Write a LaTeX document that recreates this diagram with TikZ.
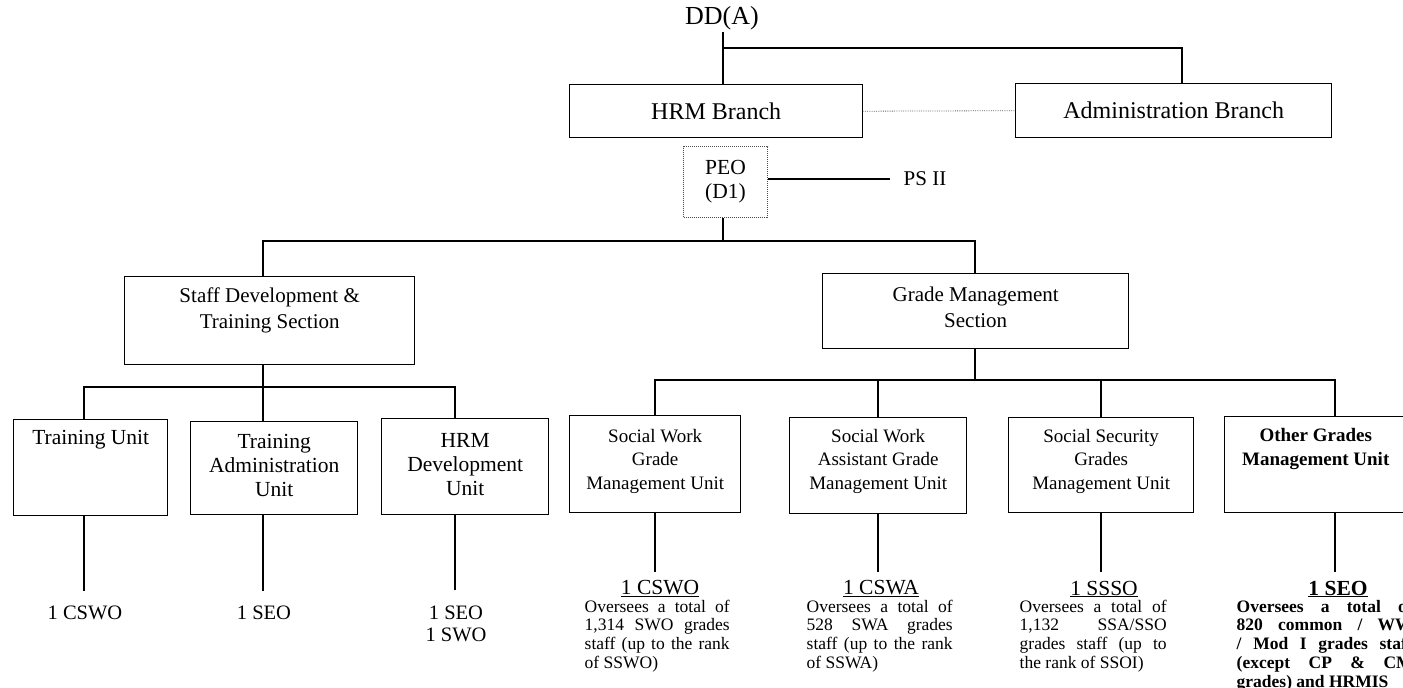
\documentclass[tikz,border=0pt]{standalone}
\usepackage{fontspec}
\setmainfont{Liberation Serif}
\newcommand{\fs}[2]{\fontsize{#1}{#2}\selectfont}
\begin{document}
\begin{tikzpicture}[x=1pt,y=-1pt,line width=1.4pt,
  box/.style={draw,line width=1.4pt,inner sep=0pt,anchor=north west},
  dotbox/.style={draw=black!70,densely dotted,line width=1pt,inner sep=0pt,anchor=north west},
  linkdot/.style={draw=black!60,densely dotted,line width=0.8pt},
  branchtext/.style={font=\fs{24}{27},align=center,inner sep=0pt},
  toptext/.style={font=\fs{21}{26},align=center,inner sep=0pt},
  trtext/.style={font=\fs{21.5}{24},align=center,inner sep=0pt},
  unittext/.style={font=\fs{19}{23.5},align=center,inner sep=0pt},
  headcount/.style={font=\fs{20.5}{22},align=center,inner sep=0pt},
  note/.style={font=\fs{17.5}{18.8},align=justify,inner sep=0pt,anchor=north west,text width=#1},
]
\useasboundingbox (0,0) rectangle (1403,688);
\clip (0,0) rectangle (1403,688);

% ---------- top level ----------
\node[font=\fs{26}{28},inner sep=0pt] (dd) at (722,18) {DD(A)};
\node[box,minimum width=293,minimum height=53] (hrm) at (569,84) {};
\node[branchtext] (hrmt) at (hrm.center) {HRM Branch};
\node[box,minimum width=316,minimum height=54] (adm) at (1015,83) {};
\node[branchtext] (admt) at (adm.center) {Administration Branch};

\coordinate (ddj) at (723,48);
\coordinate (admj) at (1182,48);
\draw ([yshift=-2]dd.south -| ddj) -- (ddj |- hrm.north);
\draw (ddj) -- (admj) -- (admj |- adm.north);
\draw[linkdot] (hrm.east) -- (adm.west);

% ---------- PEO ----------
\node[dotbox,minimum width=84,minimum height=71] (peo) at (683,146) {};
\node[font=\fs{21.5}{24},align=center,inner sep=0pt] (peot) at (peo.center) {PEO\\(D1)};
\node[font=\fs{21}{22},anchor=west,inner sep=0pt] (ps) at (903,179) {PS II};
\draw (ps.west -| peo.east) -- ([xshift=-13]ps.west);

% ---------- sections ----------
\node[box,minimum width=290,minimum height=88] (sdt) at (124,276) {};
\node[toptext] (sdtt) at ([yshift=-34]sdt.north) {Staff Development \&\\Training Section};
\node[box,minimum width=306,minimum height=75] (gms) at (822,273) {};
\node[toptext] (gmst) at ([yshift=-34]gms.north) {Grade Management\\Section};

\coordinate (b2) at (723,241);
\coordinate (b2l) at (263,241);
\coordinate (b2r) at (975,241);
\draw (peo.south -| b2) -- (b2);
\draw (b2l |- sdt.north) -- (b2l) -- (b2r) -- (b2r |- gms.north);

% ---------- training units ----------
\node[box,minimum width=154,minimum height=96] (tu) at (13,419) {};
\node[box,minimum width=167,minimum height=93] (ta) at (190,421) {};
\node[box,minimum width=167,minimum height=96] (hd) at (381,418) {};
\node[trtext] (tut) at ([yshift=-21]tu.north) {Training Unit};
\node[trtext] (tat) at ([yshift=-44]ta.north) {Training\\Administration\\Unit};
\node[trtext] (hdt) at ([yshift=-47]hd.north) {HRM\\Development\\Unit};

\coordinate (b3) at (263,387);
\coordinate (b3a) at (84,387);
\coordinate (b3b) at (455,387);
\draw (b3 |- sdt.south) -- (b3);
\draw (b3a |- tu.north) -- (b3a) -- (b3b) -- (b3b |- hd.north);
\draw (b3) -- (b3 |- ta.north);

\node[headcount] (tuh) at (85,613) {1 CSWO};
\node[headcount] (tah) at (264,613) {1 SEO};
\node[headcount] (hdh) at (456,624) {1 SEO\\1 SWO};
\coordinate (tuj) at (84,591);
\coordinate (taj) at (263,591);
\coordinate (hdj) at (455,590);
\draw (tuj |- tu.south) -- (tuj);
\draw (taj |- ta.south) -- (taj);
\draw (hdj |- hd.south) -- (hdj);

% ---------- grade management units ----------
\node[box,minimum width=171,minimum height=97] (swg) at (569,415) {};
\node[box,minimum width=177,minimum height=96] (swa) at (789,417) {};
\node[box,minimum width=185,minimum height=95] (ssg) at (1008,417) {};
\node[box,minimum width=182,minimum height=96] (ogm) at (1224,416) {};
\node[unittext] (swgt) at ([yshift=-46]swg.north) {Social Work\\Grade\\Management Unit};
\node[unittext] (swat) at ([yshift=-44]swa.north) {Social Work\\Assistant Grade\\Management Unit};
\node[unittext] (ssgt) at ([yshift=-44]ssg.north) {Social Security\\Grades\\Management Unit};
\node[unittext,font=\bfseries\fs{19}{23.5}] (ogmt) at ([yshift=-33]ogm.north) {Other Grades\\Management Unit};

\coordinate (b4) at (975,380);
\coordinate (b4a) at (655,380);
\coordinate (b4b) at (878,380);
\coordinate (b4c) at (1101,380);
\coordinate (b4d) at (1335,380);
\draw (b4 |- gms.south) -- (b4);
\draw (b4a |- swg.north) -- (b4a) -- (b4d) -- (b4d |- ogm.north);
\draw (b4b) -- (b4b |- swa.north);
\draw (b4c) -- (b4c |- ssg.north);

\coordinate (swj) at (655,572);
\coordinate (saj) at (878,572);
\coordinate (ssj) at (1101,572);
\coordinate (ogj) at (1335,572);
\draw (swj |- swg.south) -- (swj);
\draw (saj |- swa.south) -- (saj);
\draw (ssj |- ssg.south) -- (ssj);
\draw (ogj |- ogm.south) -- (ogj);

\node[headcount,font=\fs{21.5}{22}] (swh) at (660,589) {\underline{1 CSWO}};
\node[headcount,font=\fs{21.5}{22}] (sah) at (881,589) {\underline{1 CSWA}};
\node[headcount,font=\fs{21.5}{22}] (ssh) at (1104,589) {\underline{1 SSSO}};
\node[headcount,font=\bfseries\fs{21.5}{22}] (ogh) at (1338,589) {\underline{1 SEO}};

\node[note=145pt] (swn) at (584,599) {Oversees a total of\linebreak
  1,314 SWO grades\linebreak staff (up to the rank\linebreak of SSWO)};
\node[note=146pt] (san) at (806,599) {Oversees a total of\linebreak
  528 SWA grades\linebreak staff (up to the rank\linebreak of SSWA)};
\node[note=147pt] (ssn) at (1019,599) {Oversees a total of\linebreak
  1,132 SSA/SSO\linebreak grades staff (up to\linebreak the rank of SSOI)};
\node[note=176pt,font=\bfseries\fs{17.5}{18.8}] (ogn) at (1236,599) {Oversees a total of\linebreak
  820 common / WW\linebreak / Mod I grades staff\linebreak (except CP \& CM\linebreak grades) and HRMIS};
\end{tikzpicture}
\end{document}
